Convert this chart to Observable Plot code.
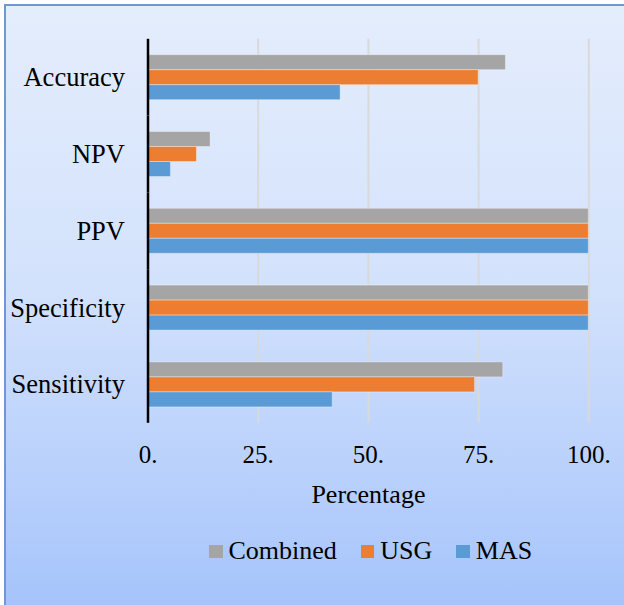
<!DOCTYPE html>
<html>
<head>
<meta charset="utf-8">
<script src="https://cdn.jsdelivr.net/npm/d3@7"></script>
<script src="https://cdn.jsdelivr.net/npm/@observablehq/plot@0.6"></script>
<style>
  html, body { margin: 0; padding: 0; background: #ffffff; font-family: 'Liberation Serif', serif; }
  #frame {
    position: absolute; left: 4px; top: 4px; width: 640px; height: 620px;
    border-left: 2px solid #6f97d4; border-top: 2px solid #6f97d4;
    background: linear-gradient(to bottom, #e4edfc 0%, #d3e2fc 45%, #a3c2fb 100%);
  }
  #chart { position: absolute; left: 0; top: 0; }
  #legend {
    position: absolute; left: 209px; top: 536px;
    display: flex; align-items: center;
    font-size: 26px; color: #000;
  }
  .item { display: flex; align-items: center; margin-right: 24px; }
  .sw { width: 13.5px; height: 13.5px; margin-right: 6px; margin-top: 1px; }
</style>
</head>
<body>
<div id="frame"></div>
<div id="chart"></div>
<div id="legend"></div>
<script>
const categories = ["Accuracy", "NPV", "PPV", "Specificity", "Sensitivity"];
const series = ["Combined", "USG", "MAS"];
const colors = ["#a5a5a5", "#ed7d31", "#5b9bd5"];
const combined = [81.2, 14.2, 100, 100, 80.6];
const usg = [75.0, 11.1, 100, 100, 74.2];
const mas = [43.7, 5.2, 100, 100, 41.9];
const xTicks = [0, 25, 50, 75, 100];
const xLabel = "Percentage";

const valuesBySeries = [combined, usg, mas];
const data = [];
categories.forEach((c, i) => {
  series.forEach((s, j) => data.push({category: c, series: s, value: valuesBySeries[j][i]}));
});

const chart = Plot.plot({
  width: 624,
  height: 520,
  marginTop: 38.8,
  marginBottom: 97.2,
  marginLeft: 147.5,
  marginRight: 35.7,
  style: "background: transparent; font-family: 'Liberation Serif', serif; color: #000;",
  x: {domain: [0, 100]},
  fy: {domain: categories, padding: 0, round: false},
  y: {domain: series, paddingInner: 0, paddingOuter: 1.06, round: false, axis: null},
  color: {domain: series, range: colors},
  marks: [
    Plot.ruleX(xTicks.filter(d => d > 0), {stroke: "#d9d9d9", strokeWidth: 2}),
    Plot.barX(data, {fy: "category", y: "series", x: "value", fill: "series", stroke: "#ffffff", strokeOpacity: 0.35, strokeWidth: 1}),
    Plot.ruleX([0], {stroke: "#000", strokeWidth: 2.5}),
    Plot.axisFy({anchor: "left", tickSize: 0, tickPadding: 23, fontSize: 26.5, label: null}),
    Plot.axisX({ticks: xTicks, tickFormat: d => d + ".", tickSize: 0, tickPadding: 22, fontSize: 25, label: null}),
    Plot.axisX({ticks: [], label: xLabel, labelAnchor: "center", labelArrow: "none", labelOffset: 80, fontSize: 26})
  ]
});
document.getElementById("chart").appendChild(chart);

const legend = document.getElementById("legend");
series.forEach((s, j) => {
  const item = document.createElement("div");
  item.className = "item";
  const sw = document.createElement("div");
  sw.className = "sw";
  sw.style.background = colors[j];
  const t = document.createElement("span");
  t.textContent = s;
  item.appendChild(sw);
  item.appendChild(t);
  legend.appendChild(item);
});
</script>
</body>
</html>
